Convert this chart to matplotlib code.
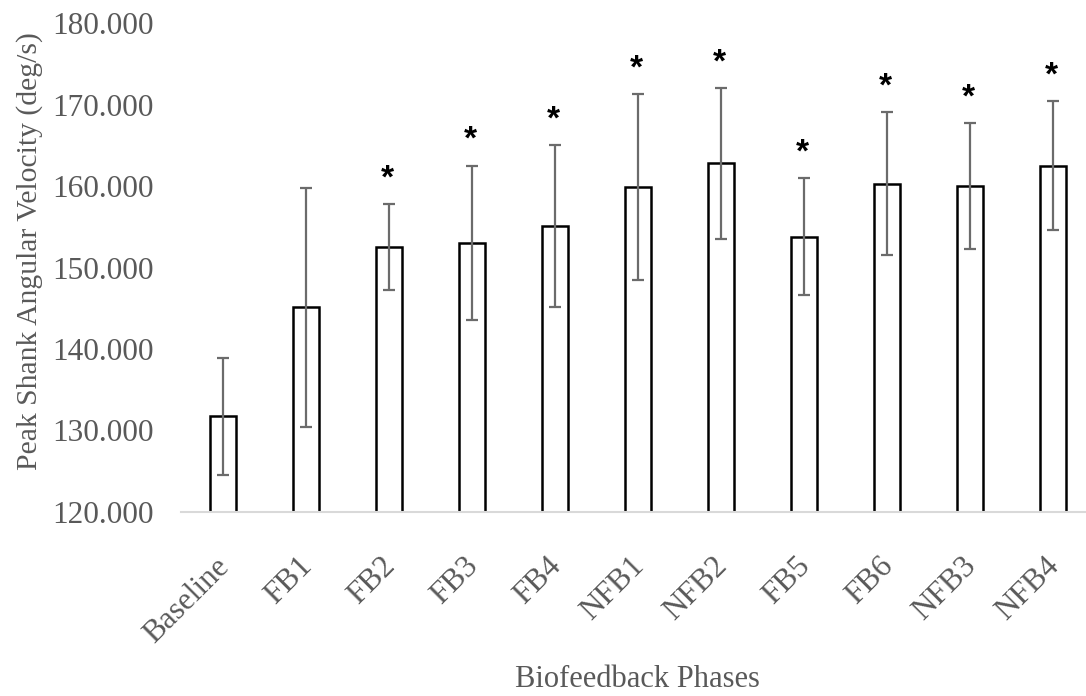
import numpy as np
import matplotlib.pyplot as plt
from matplotlib.transforms import ScaledTranslation

# Data
phases = ['Baseline', 'FB1', 'FB2', 'FB3', 'FB4', 'NFB1', 'NFB2', 'FB5', 'FB6', 'NFB3', 'NFB4']
mean_vel = [131.7, 145.1, 152.5, 153.0, 155.1, 159.9, 162.8, 153.8, 160.3, 160.0, 162.5]
sd_vel = [7.2, 14.7, 5.25, 9.5, 9.95, 11.4, 9.25, 7.15, 8.8, 7.75, 7.95]
significant = [False, False, True, True, True, True, True, True, True, True, True]

plt.rcParams['font.family'] = ['Liberation Serif', 'DejaVu Serif']

fig = plt.figure(figsize=(10.86, 6.96), dpi=100)
ax = fig.add_axes([0.1671, 0.2648, 0.8404, 0.7017])

x = np.arange(len(phases))
ax.bar(x, mean_vel, width=0.317, color='white', edgecolor='black', linewidth=1.8, zorder=2)
ax.errorbar(x, mean_vel, yerr=sd_vel, fmt='none', ecolor='#6b6b6b',
            elinewidth=1.6, capsize=4.5, capthick=1.6, zorder=3)

# Significance markers above the upper error bar
for xi, m, s, sig in zip(x, mean_vel, sd_vel, significant):
    if sig:
        ax.annotate('*', xy=(xi, m + s), xytext=(-1, 7), textcoords='offset points',
                    ha='center', va='bottom', fontsize=24, fontweight='bold',
                    family='Liberation Sans', color='black')

ax.set_xlim(-0.5, len(phases) - 0.5)
ax.set_ylim(120, 180)
ax.set_yticks(np.arange(120, 181, 10))
ax.yaxis.set_major_formatter(plt.FuncFormatter(lambda v, p: f'{v:.3f}'))

ax.set_xticks(x)
ax.set_xticklabels(phases, rotation=45, ha='right', rotation_mode='anchor')

for side in ['left', 'right', 'top']:
    ax.spines[side].set_visible(False)
ax.spines['bottom'].set_color('#d9d9d9')
ax.spines['bottom'].set_linewidth(1.5)
ax.spines['bottom'].set_zorder(4)

ax.tick_params(axis='y', length=0, pad=20, labelsize=22.5, labelcolor='#595959')
ax.tick_params(axis='x', length=0, pad=16, labelsize=22.5, labelcolor='#595959')

# nudge the slanted labels down and left like the original
shift = ScaledTranslation(-8 / 100, -18 / 100, fig.dpi_scale_trans)
for lbl in ax.get_xticklabels():
    lbl.set_transform(lbl.get_transform() + shift)

ax.set_ylabel('Peak Shank Angular Velocity (deg/s)', fontsize=21.3, color='#595959')
ax.yaxis.set_label_coords(-0.152, 0.534)
ax.set_xlabel('Biofeedback Phases', fontsize=22, color='#595959', labelpad=12)

fig.savefig('out.png', dpi=100)
